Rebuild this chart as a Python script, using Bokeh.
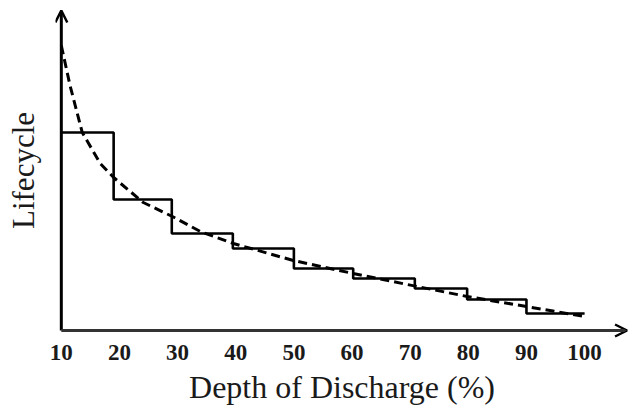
from bokeh.plotting import figure
from bokeh.models import Arrow, OpenHead, FixedTicker
from bokeh.embed import file_html
from bokeh.resources import INLINE

# Step function (measured cycle life per DoD band)
step_edges = [10, 19, 29, 39.5, 50, 60.2, 70.8, 79.8, 90, 100]
step_levels = [3960, 2620, 1940, 1640, 1240, 1040, 840, 620, 340]

# Fitted curve (dashed)
curve_x = [10, 11.5, 13.6, 16.7, 19, 24.1, 29.1, 33.9, 39.6, 49.9, 60.2, 71.2, 79.8, 90, 100]
curve_y = [5700, 4900, 3960, 3340, 3060, 2560, 2280, 1980, 1740, 1400, 1140, 880, 680, 480, 280]

tick_values = [10, 20, 30, 40, 50, 60, 70, 80, 90, 100]
tick_labels = ["10", "20", "30", "40", "50", "60", "70", "80", "90", "100"]

FONT = "Liberation Serif"
TXT = "#1a1a1a"

p = figure(width=628, height=409, output_backend="svg", toolbar_location=None,
           x_range=(9, 107.55), y_range=(-200, 6600),
           min_border_left=55, min_border_right=0, min_border_top=0, min_border_bottom=69)
p.outline_line_color = None
p.grid.visible = False
p.background_fill_color = "white"

ya = p.yaxis[0]
ya.axis_label = "Lifecycle"
ya.axis_label_text_font = FONT
ya.axis_label_text_font_style = "normal"
ya.axis_label_text_font_size = "31px"
ya.axis_label_text_color = TXT
ya.axis_label_standoff = 15
ya.axis_line_color = None
ya.major_tick_line_color = None
ya.minor_tick_line_color = None
ya.major_label_text_font_size = "0px"
ya.major_label_standoff = 0
ya.ticker = FixedTicker(ticks=[])

xa = p.xaxis[0]
xa.ticker = FixedTicker(ticks=tick_values)
xa.major_label_overrides = {v: s for v, s in zip(tick_values, tick_labels)}
xa.axis_line_color = None
xa.major_tick_line_color = None
xa.minor_tick_line_color = None
xa.major_tick_out = 0
xa.major_label_standoff = 4
xa.major_label_text_font = FONT
xa.major_label_text_font_style = "bold"
xa.major_label_text_font_size = "23px"
xa.major_label_text_color = TXT
xa.axis_label = "Depth of Discharge (%)"
xa.axis_label_text_font = FONT
xa.axis_label_text_font_style = "normal"
xa.axis_label_text_font_size = "32px"
xa.axis_label_text_color = TXT
xa.axis_label_standoff = 6

sx = step_edges
sy = step_levels + [step_levels[-1]]
p.step(sx, sy, mode="after", line_color="black", line_width=2.6)

p.line(curve_x, curve_y, line_color="black", line_width=3, line_dash="9 5")

p.add_layout(Arrow(end=OpenHead(size=12, line_width=2.5, line_color="black"),
                   x_start=10, y_start=0, x_end=10, y_end=6400,
                   line_width=3, line_color="black"))
p.add_layout(Arrow(end=OpenHead(size=12, line_width=2.5, line_color="black"),
                   x_start=10, y_start=0, x_end=107.3, y_end=0,
                   line_width=3, line_color="#333333"))

open("out.html", "w").write(file_html(p, INLINE))
